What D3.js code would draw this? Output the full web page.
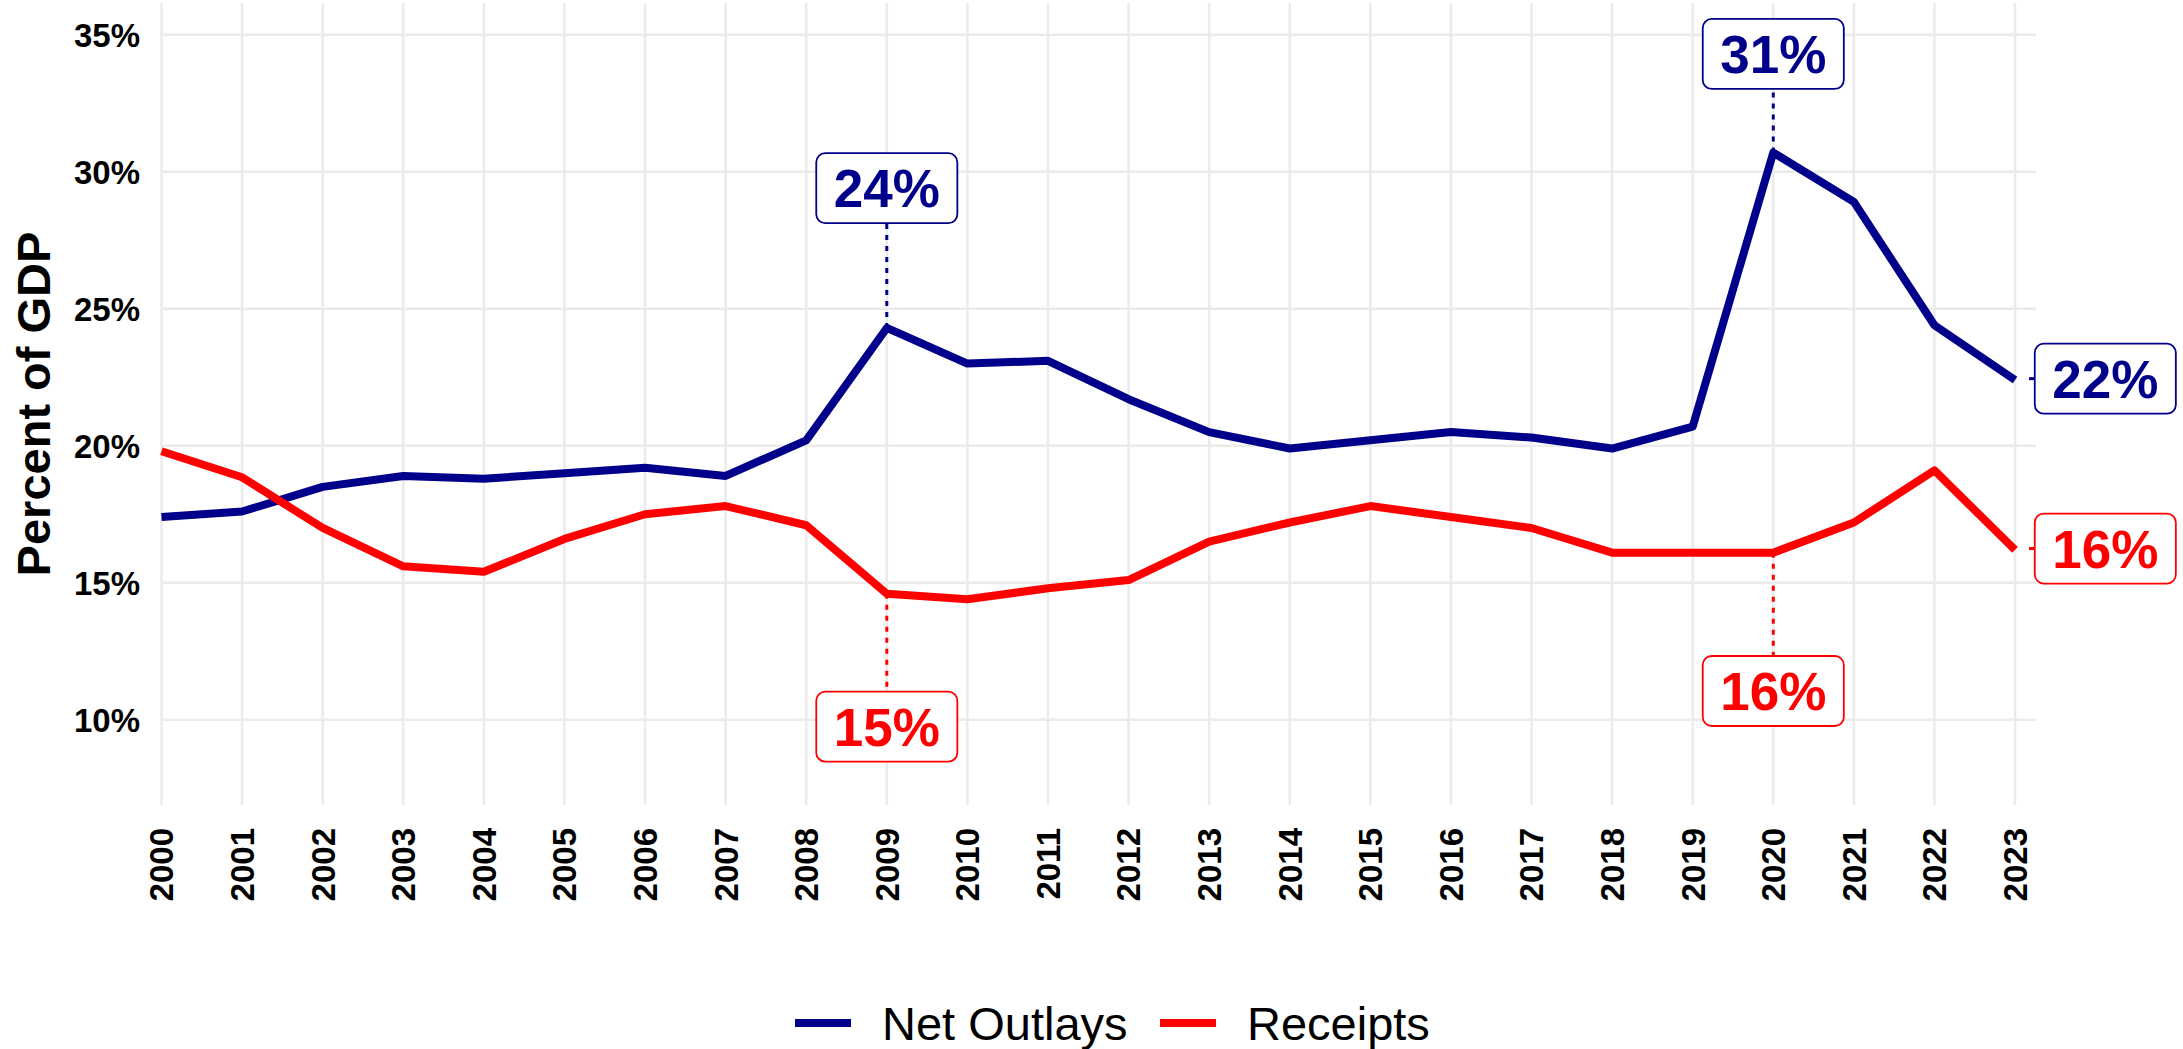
<!DOCTYPE html>
<html>
<head>
<meta charset="utf-8">
<script src="https://cdn.jsdelivr.net/npm/d3@7"></script>
<style>
  body { margin: 0; background: #fff; }
  svg { display: block; font-family: "Liberation Sans", Arial, sans-serif; }
  .grid line { stroke: #ebebeb; stroke-width: 2.5; }
  .tick-label { font-weight: bold; font-size: 33px; fill: #000; }
</style>
</head>
<body>
<svg id="chart" width="2183" height="1049"></svg>
<script>
// data (percent of GDP)
const years = d3.range(2000, 2024);
const outlays = [17.4, 17.6, 18.5, 18.9, 18.8, 19.0, 19.2, 18.9, 20.2, 24.3, 23.0, 23.1,
                 21.7, 20.5, 19.9, 20.2, 20.5, 20.3, 19.9, 20.7, 30.7, 28.9, 24.4, 22.4];
const receipts = [19.8, 18.85, 17.0, 15.6, 15.4, 16.6, 17.5, 17.8, 17.1, 14.6, 14.4, 14.8,
                  15.1, 16.5, 17.2, 17.8, 17.4, 17.0, 16.1, 16.1, 16.1, 17.2, 19.1, 16.2];
const seriesNames = ["Net Outlays", "Receipts"];
const seriesColors = ["#00008b", "#ff0000"];
const yTicks = [10, 15, 20, 25, 30, 35];

// labelled points, nudges in data units (like ggrepel nudge_x / nudge_y)
const labelSeries = [0, 0, 0, 1, 1, 1];
const labelYears = [2009, 2020, 2023, 2009, 2020, 2023];
const labelNudgeX = [0, 0, 1.12, 0, 0, 1.12];
const labelNudgeY = [5.1, 3.6, 0.05, -4.85, -5.05, 0.05];

const svg = d3.select("#chart");
const pLeft = 161.5, pRight = 2036, pTop = 3, pBottom = 805;

const x = d3.scaleLinear().domain([2000, 2023.26]).range([pLeft, pRight]);
const y = d3.scaleLinear().domain([6.89, 36.16]).range([pBottom, pTop]);

// grid
const grid = svg.append("g").attr("class", "grid");
grid.selectAll(".hg").data(yTicks).enter().append("line")
    .attr("x1", pLeft).attr("x2", pRight)
    .attr("y1", d => y(d)).attr("y2", d => y(d));
grid.selectAll(".vg").data(years).enter().append("line")
    .attr("x1", d => x(d)).attr("x2", d => x(d))
    .attr("y1", pTop).attr("y2", pBottom);

// y tick labels
svg.selectAll(".ylab").data(yTicks).enter().append("text")
    .attr("class", "tick-label")
    .attr("x", 140).attr("y", d => y(d)).attr("dy", "0.36em")
    .attr("text-anchor", "end")
    .text(d => d + "%");

// x tick labels (rotated)
svg.selectAll(".xlab").data(years).enter().append("text")
    .attr("class", "tick-label")
    .attr("transform", d => "translate(" + x(d) + ",828) rotate(-90)")
    .attr("dy", "0.36em")
    .attr("text-anchor", "end")
    .text(d => d);

// y title
svg.append("text")
    .attr("transform", "translate(33," + ((pTop + pBottom) / 2) + ") rotate(-90)")
    .attr("dy", "0.36em")
    .attr("text-anchor", "middle")
    .style("font-weight", "bold").style("font-size", "47px")
    .text("Percent of GDP");

// lines
const allSeries = [outlays, receipts];
const line = d3.line()
    .x((d, i) => x(years[i]))
    .y(d => y(d));

svg.selectAll(".series").data(allSeries).enter().append("path")
    .attr("d", line)
    .attr("fill", "none")
    .attr("stroke", (d, i) => seriesColors[i])
    .attr("stroke-width", 8)
    .attr("stroke-linejoin", "round");

// labels
const boxH = 70, padX = 17.5;
labelYears.forEach(function(yr, k) {
  const s = labelSeries[k];
  const v = allSeries[s][years.indexOf(yr)];
  const col = seriesColors[s];
  const px = x(yr), py = y(v);
  const cx = x(yr + labelNudgeX[k]), cy = y(v + labelNudgeY[k]);
  const g = svg.append("g");

  const txt = g.append("text")
      .attr("x", cx).attr("y", cy).attr("dy", "0.36em")
      .attr("text-anchor", "middle")
      .style("font-weight", "bold").style("font-size", "53px")
      .attr("fill", col)
      .text(Math.round(v) + "%");
  const w = txt.node().getComputedTextLength() + 2 * padX;

  // dotted connector
  let x1 = px, y1 = py, x2 = px, y2 = py;
  if (labelNudgeX[k] !== 0) { x1 = px + 14; x2 = cx - w / 2; y2 = cy; y1 = cy; }
  else if (cy < py) { y2 = cy + boxH / 2; }
  else { y2 = cy - boxH / 2; }
  g.insert("line", "text")
      .attr("x1", x1).attr("y1", y1).attr("x2", x2).attr("y2", y2)
      .attr("stroke", col).attr("stroke-width", 3)
      .attr("stroke-dasharray", "5,6");

  g.insert("rect", "text")
      .attr("x", cx - w / 2).attr("y", cy - boxH / 2)
      .attr("width", w).attr("height", boxH)
      .attr("rx", 9).attr("ry", 9)
      .attr("fill", "#fff").attr("stroke", col).attr("stroke-width", 1.8);
});

// legend
const legend = svg.append("g");
const legX = [795, 1160];
seriesNames.forEach(function(name, i) {
  legend.append("line")
      .attr("x1", legX[i]).attr("x2", legX[i] + 56)
      .attr("y1", 1023).attr("y2", 1023)
      .attr("stroke", seriesColors[i]).attr("stroke-width", 8);
  legend.append("text")
      .attr("x", legX[i] + 87).attr("y", 1023).attr("dy", "0.36em")
      .style("font-size", "47px")
      .text(name);
});
</script>
</body>
</html>
